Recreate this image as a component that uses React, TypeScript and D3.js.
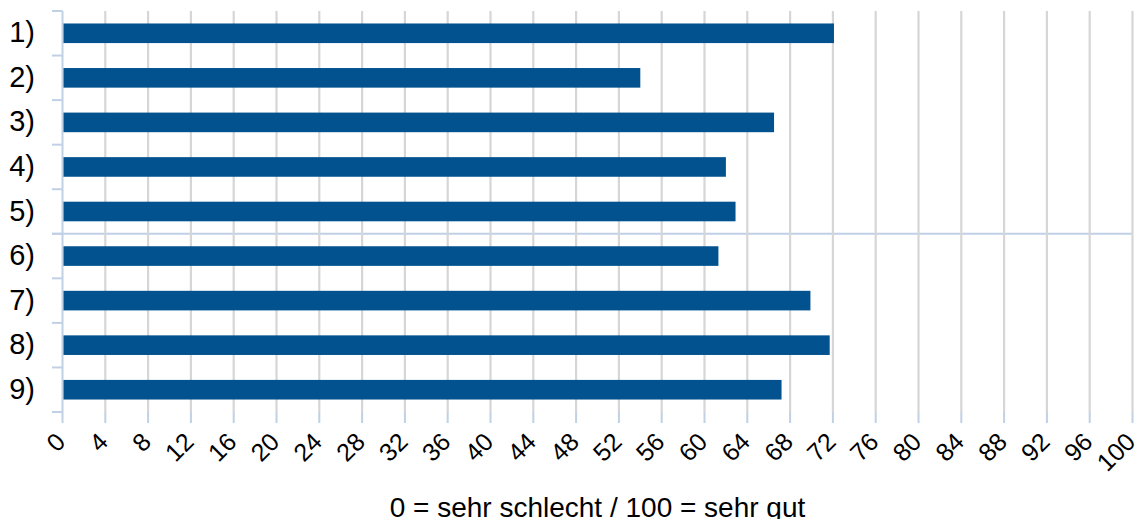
import React from "react";
import * as d3 from "d3";

const categories = ["1)", "2)", "3)", "4)", "5)", "6)", "7)", "8)", "9)"];
const values = [72.1, 54.0, 66.5, 62.0, 62.9, 61.3, 69.9, 71.7, 67.2];
const xTicks = d3.range(0, 101, 4);
const axisTitle = "0 = sehr schlecht / 100 = sehr gut";

const W = 1142;
const H = 519;
const left = 62.5;
const right = 1132.5;
const top = 11;
const bottom = 412;
const FONT = "Arial, 'Liberation Sans', Helvetica, sans-serif";
const BAR = "#02528f";
const GRID = "#d6d6d6";
const AXIS = "#c0d0e5";

export default function App() {
  const x = d3.scaleLinear().domain([0, 100]).range([left, right]);
  const y = d3
    .scaleBand<string>()
    .domain(categories)
    .range([top, bottom])
    .paddingInner(0.56)
    .paddingOuter(0.28);
  const step = y.step();
  const boundaries = d3.range(0, categories.length + 1).map((i) => top + i * step);
  const midLineY = boundaries[5];

  return (
    <svg
      width={W}
      height={H}
      style={{ position: "absolute", left: 0, top: 0, display: "block", background: "#fff" }}
    >
      {/* horizontal axis line drawn across the middle */}
      <line x1={52} x2={right} y1={midLineY} y2={midLineY} stroke={AXIS} strokeWidth={2} />
      {/* vertical grid lines */}
      {xTicks.map((t) => (
        <g key={"g" + t}>
          {t !== 0 && (
            <line x1={x(t)} x2={x(t)} y1={top} y2={bottom} stroke={GRID} strokeWidth={2.2} />
          )}
          <line x1={x(t)} x2={x(t)} y1={bottom} y2={bottom + 11} stroke={AXIS} strokeWidth={2} />
        </g>
      ))}
      {/* y axis */}
      <line x1={left} x2={left} y1={top} y2={bottom} stroke={AXIS} strokeWidth={2} />
      {boundaries.map((b, i) => (
        <line key={"yt" + i} x1={52} x2={left} y1={b} y2={b} stroke={AXIS} strokeWidth={2} />
      ))}
      {/* bars */}
      {categories.map((c, i) => (
        <rect
          key={"b" + c}
          x={x(0) + 1}
          y={y(c)!}
          width={x(values[i]) - x(0) - 1}
          height={y.bandwidth()}
          fill={BAR}
        />
      ))}
      {/* y labels */}
      {categories.map((c) => (
        <text
          key={"l" + c}
          x={35}
          y={y(c)! + y.bandwidth() / 2 + 9}
          textAnchor="end"
          fontFamily={FONT}
          fontSize={29}
          fill="#000"
        >
          {c}
        </text>
      ))}
      {/* x tick labels */}
      {xTicks.map((t) => (
        <text
          key={"xl" + t}
          transform={`translate(${x(t) - 2},437) rotate(-45)`}
          textAnchor="end"
          dominantBaseline="central"
          fontFamily={FONT}
          fontSize={25}
          fill="#000"
        >
          {t}
        </text>
      ))}
      <text
        x={(left + right) / 2}
        y={516.5}
        textAnchor="middle"
        fontFamily={FONT}
        fontSize={28}
        fill="#000"
      >
        {axisTitle}
      </text>
    </svg>
  );
}
